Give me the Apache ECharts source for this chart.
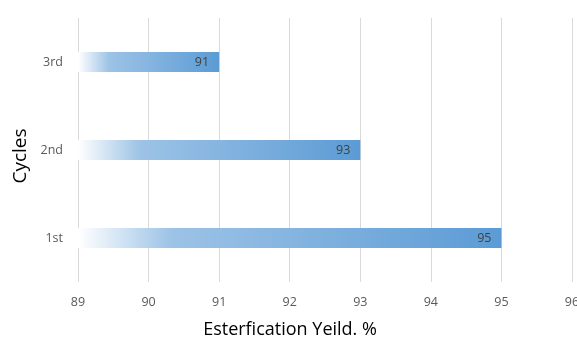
<!DOCTYPE html>
<html>
<head>
<meta charset="utf-8">
<script src="https://cdn.jsdelivr.net/npm/echarts@6/dist/echarts.min.js"></script>
<style>
  html, body { margin: 0; padding: 0; background: #ffffff; }
  #chart { width: 577px; height: 337px; }
</style>
</head>
<body>
<div id="chart"></div>
<script>
// Catalyst reuse: esterification yield per cycle
const cycles = ['1st', '2nd', '3rd'];
const yields = [95, 93, 91];
const xTicks = { min: 89, max: 96, step: 1 };

const chart = echarts.init(document.getElementById('chart'));

const barFill = new echarts.graphic.LinearGradient(0, 0, 1, 0, [
  { offset: 0, color: '#ffffff' },
  { offset: 0.22, color: '#9dc3e6' },
  { offset: 1, color: '#5b9bd5' }
]);

chart.setOption({
  animation: false,
  textStyle: { fontFamily: '"Open Sans", sans-serif' },
  grid: { left: 78, right: 5, top: 18, bottom: 55, containLabel: false, outerBoundsMode: 'none' },
  xAxis: {
    type: 'value',
    min: xTicks.min,
    max: xTicks.max,
    interval: xTicks.step,
    name: 'Esterfication Yeild. %',
    nameLocation: 'middle',
    nameGap: 39,
    nameTextStyle: { fontSize: 18, color: '#000000', padding: [0, 70, 0, 0] },
    axisLine: { show: false },
    axisTick: { show: false },
    axisLabel: { color: '#595959', fontSize: 12.5, margin: 14 },
    splitLine: { show: true, lineStyle: { color: '#d9d9d9', width: 1 } }
  },
  yAxis: {
    type: 'category',
    data: cycles,
    name: 'Cycles',
    nameLocation: 'middle',
    nameGap: 48,
    nameTextStyle: { fontSize: 19, color: '#000000', padding: [0, 12, 0, 0] },
    axisLine: { show: false },
    axisTick: { show: false },
    axisLabel: { color: '#595959', fontSize: 12.5, margin: 15 },
    splitLine: { show: false }
  },
  series: [{
    type: 'bar',
    data: yields,
    barWidth: 20,
    itemStyle: { color: barFill },
    label: {
      show: true,
      position: 'insideRight',
      distance: 10,
      color: '#404040',
      fontSize: 12.5
    }
  }]
});
</script>
</body>
</html>
